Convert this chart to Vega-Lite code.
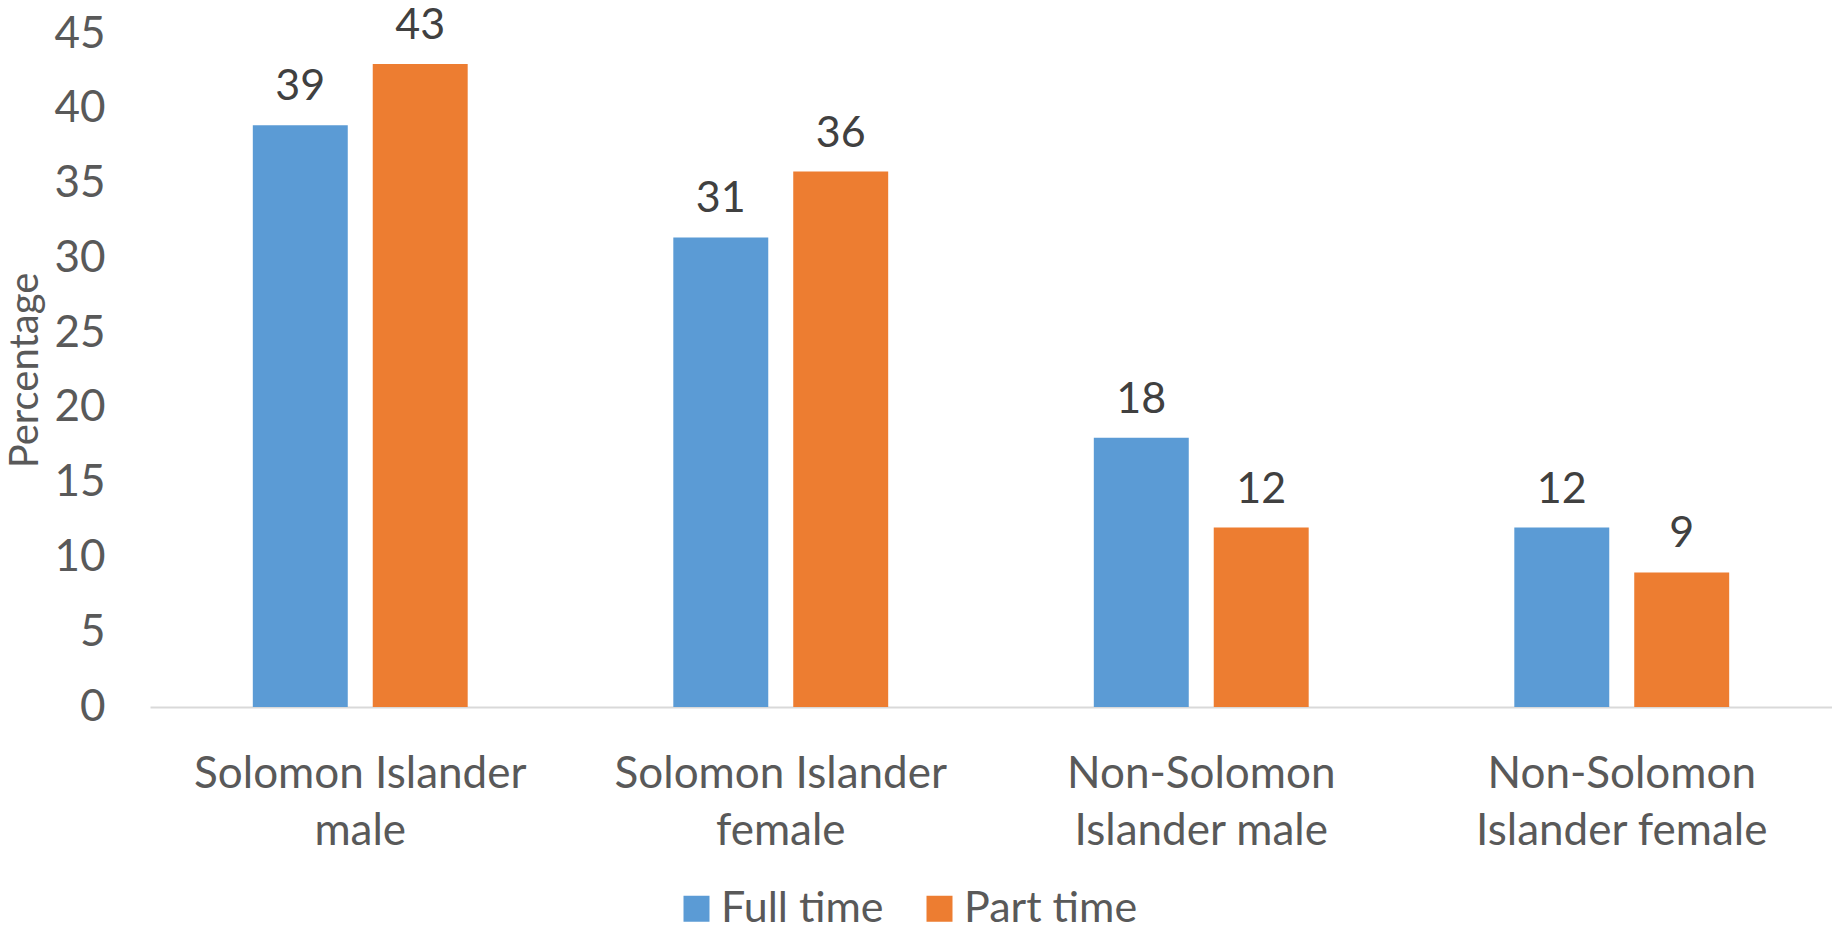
{
  "$schema": "https://vega.github.io/schema/vega-lite/v6.json",
  "width": 1682,
  "height": 673,
  "autosize": {"type": "none"},
  "padding": {"left": 150, "top": 34, "right": 0, "bottom": 223},
  "background": "white",
  "config": {
    "view": {"stroke": null},
    "font": "Lato",
    "axis": {"grid": false, "ticks": false, "domain": false}
  },
  "data": {
    "values": [
      {"group": "Solomon Islander male", "type": "Full time", "value": 38.9},
      {"group": "Solomon Islander male", "type": "Part time", "value": 43.0},
      {"group": "Solomon Islander female", "type": "Full time", "value": 31.4},
      {"group": "Solomon Islander female", "type": "Part time", "value": 35.8},
      {"group": "Non-Solomon Islander male", "type": "Full time", "value": 18.0},
      {"group": "Non-Solomon Islander male", "type": "Part time", "value": 12.0},
      {"group": "Non-Solomon Islander female", "type": "Full time", "value": 12.0},
      {"group": "Non-Solomon Islander female", "type": "Part time", "value": 9.0}
    ]
  },
  "encoding": {
    "x": {
      "field": "group",
      "type": "nominal",
      "sort": null,
      "scale": {"paddingInner": 0.489, "paddingOuter": 0.2445},
      "axis": {
        "title": null,
        "labelAngle": 0,
        "labelFontSize": 44,
        "labelColor": "#595959",
        "labelBaseline": "top",
        "labelPadding": 45,
        "labelLineHeight": 57,
        "labelLimit": 400,
        "domain": true,
        "domainColor": "#d9d9d9",
        "domainWidth": 2,
        "labelExpr": "datum.label == 'Solomon Islander male' ? ['Solomon Islander', 'male'] : datum.label == 'Solomon Islander female' ? ['Solomon Islander', 'female'] : datum.label == 'Non-Solomon Islander male' ? ['Non-Solomon', 'Islander male'] : ['Non-Solomon', 'Islander female']"
      }
    },
    "xOffset": {
      "field": "type",
      "type": "nominal",
      "scale": {"paddingInner": 0.2083, "paddingOuter": 0}
    },
    "y": {
      "field": "value",
      "type": "quantitative",
      "scale": {"domain": [0, 45], "nice": false},
      "axis": {
        "title": "Percentage",
        "values": [0, 5, 10, 15, 20, 25, 30, 35, 40, 45],
        "labelFontSize": 44,
        "labelColor": "#595959",
        "labelPadding": 45,
        "titleFontSize": 40,
        "titleFontWeight": "normal",
        "titleColor": "#595959",
        "titleX": -125,
        "titleY": 336,
        "titleAngle": -90,
        "titleAlign": "center",
        "titleBaseline": "middle",
        "titleLetterSpacing": 4
      }
    }
  },
  "layer": [
    {
      "mark": {"type": "bar"},
      "encoding": {
        "color": {
          "field": "type",
          "type": "nominal",
          "scale": {"domain": ["Full time", "Part time"], "range": ["#5B9BD5", "#ED7D31"]},
          "legend": {
            "title": null,
            "orient": "none",
            "direction": "horizontal",
            "legendX": 525,
            "legendY": 853,
            "symbolType": "square",
            "symbolSize": 676,
            "symbolStrokeWidth": 0,
            "labelFontSize": 43,
            "labelColor": "#595959",
            "labelOffset": 3,
            "columnPadding": 34,
            "labelLimit": 300
          }
        }
      }
    },
    {
      "mark": {"type": "text", "baseline": "alphabetic", "dy": -25, "fontSize": 43, "color": "#404040"},
      "encoding": {
        "text": {"field": "value", "type": "quantitative", "format": ".0f"}
      }
    }
  ]
}
